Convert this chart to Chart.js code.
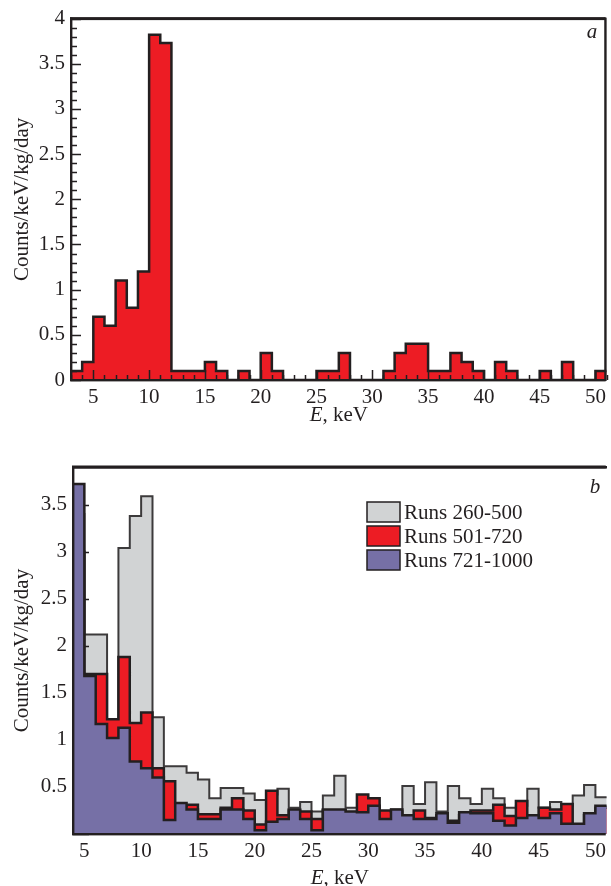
<!DOCTYPE html>
<html>
<head>
<meta charset="utf-8">
<script src="https://cdn.jsdelivr.net/npm/chart.js@4.4.1/dist/chart.umd.min.js"></script>
<style>
html, body { margin: 0; padding: 0; background: #fff; }
#wrapA { position: absolute; left: 0; top: 0; width: 611px; height: 430px; }
#wrapB { position: absolute; left: 0; top: 430px; width: 611px; height: 456px; }
</style>
</head>
<body>
<div id="wrapA"><canvas id="chartA"></canvas></div>
<div id="wrapB"><canvas id="chartB"></canvas></div>
<script>
// panel a: 1 keV bins from 3 to 51 keV
let binStartA = 3;
let countsA = [0.1, 0.2, 0.7, 0.6, 1.1, 0.8, 1.2, 3.82, 3.73, 0.1,
    0.1, 0.1, 0.2, 0.1, 0, 0.1, 0, 0.3, 0.1, 0,
    0, 0, 0.1, 0.1, 0.3, 0, 0, 0, 0.1, 0.3,
    0.4, 0.4, 0.1, 0.1, 0.3, 0.2, 0.1, 0, 0.2, 0.1,
    0, 0, 0.1, 0, 0.2, 0, 0, 0.1];

// panel b: 1 keV bins from 4 to 51 keV
let binStartB = 4;
let runs260 = [3.4, 2.12, 2.12, 1.2, 3.04, 3.38, 3.59, 1.24, 0.72, 0.72,
    0.65, 0.58, 0.38, 0.49, 0.49, 0.43, 0.36, 0.42, 0.48, 0.28,
    0.34, 0.24, 0.41, 0.62, 0.28, 0.28, 0.3, 0.24, 0.26, 0.51,
    0.32, 0.55, 0.24, 0.51, 0.38, 0.32, 0.48, 0.38, 0.28, 0.3,
    0.48, 0.28, 0.34, 0.3, 0.41, 0.52, 0.39];
let runs501 = [3.0, 1.7, 1.7, 1.22, 1.88, 1.18, 1.29, 0.7, 0.56, 0.3,
    0.31, 0.21, 0.21, 0.28, 0.38, 0.25, 0.1, 0.46, 0.2, 0.25,
    0.24, 0.16, 0.25, 0.25, 0.22, 0.42, 0.38, 0.25, 0.24, 0.18,
    0.25, 0.17, 0.2, 0.14, 0.2, 0.25, 0.25, 0.31, 0.19, 0.35,
    0.18, 0.28, 0.26, 0.32, 0.1, 0.2, 0.28];
let runs721 = [3.72, 1.68, 1.17, 1.02, 1.13, 0.77, 0.70, 0.60, 0.15, 0.33,
    0.26, 0.16, 0.16, 0.26, 0.26, 0.16, 0.04, 0.13, 0.16, 0.26,
    0.16, 0.04, 0.26, 0.26, 0.24, 0.23, 0.30, 0.16, 0.26, 0.20,
    0.16, 0.16, 0.22, 0.12, 0.23, 0.22, 0.22, 0.14, 0.09, 0.17,
    0.20, 0.17, 0.22, 0.11, 0.11, 0.22, 0.30];
let seriesLabels = ['Runs 260-500', 'Runs 501-720', 'Runs 721-1000'];

// tick labels
let xTickLabels = [5, 10, 15, 20, 25, 30, 35, 40, 45, 50];
let yTickLabelsA = [0, 0.5, 1, 1.5, 2, 2.5, 3, 3.5, 4];
let yTickLabelsB = [0.5, 1, 1.5, 2, 2.5, 3, 3.5];

const dark = '#231f20';
const red = '#ed1c24';
const grey = '#d1d3d4';
const purple = '#7670a6';
const serif = 'Liberation Serif, Times New Roman, serif';
const tickFont = { family: serif, size: 21 };

// histogram as a stepped line through the bin edges
function stepPoints(start, values) {
    let pts = values.map((v, i) => ({ x: start + i, y: v }));
    pts.push({ x: start + values.length, y: values[values.length - 1] });
    return pts;
}

function onlyListed(list) {
    return function (value) {
        return list.some(v => Math.abs(v - value) < 1e-6) ? String(value) : '';
    };
}

// ticks drawn inside the frame
function drawTicks(chart, t) {
    const ctx = chart.ctx, a = chart.chartArea, x = chart.scales.x, y = chart.scales.y;
    ctx.save();
    ctx.strokeStyle = dark;
    ctx.lineWidth = 1.5;
    ctx.beginPath();
    if (t.yStep) {
        let n = Math.floor((y.max - y.min) / t.yStep + 1e-6);
        for (let i = 0; i <= n; i++) {
            let v = y.min + i * t.yStep;
            let major = Math.abs(v / 0.5 - Math.round(v / 0.5)) < 1e-6;
            let len = major ? t.yMajor : t.yMinor;
            let py = Math.round(y.getPixelForValue(v)) + 0.5;
            ctx.moveTo(a.left, py);
            ctx.lineTo(a.left + len, py);
        }
    }
    if (t.xStep) {
        let n = Math.floor((x.max - x.min) / t.xStep + 1e-6);
        for (let i = 0; i <= n; i++) {
            let v = x.min + i * t.xStep;
            let len = v % 5 === 0 ? t.xMajor : t.xMinor;
            let px = Math.round(x.getPixelForValue(v)) + 0.5;
            ctx.moveTo(px, a.bottom);
            ctx.lineTo(px, a.bottom - len);
        }
    }
    ctx.stroke();
    ctx.restore();
}

function drawFrame(chart, withRight) {
    const ctx = chart.ctx, a = chart.chartArea;
    ctx.save();
    ctx.fillStyle = dark;
    ctx.fillRect(a.left - 1, a.top - 1.5, a.right - a.left, 3);
    ctx.fillRect(a.left - 1, a.top - 1, 2.4, a.bottom - a.top + 2);
    ctx.fillRect(a.left - 1, a.bottom - 1, a.right - a.left, 2.4);
    if (withRight) {
        ctx.fillRect(a.right - 2.4, a.top - 1, 2.4, a.bottom - a.top + 2);
    }
    ctx.restore();
}

function drawXTitle(chart, dy) {
    const ctx = chart.ctx, a = chart.chartArea;
    ctx.save();
    ctx.fillStyle = dark;
    ctx.textBaseline = 'middle';
    ctx.font = 'italic 21px ' + serif;
    let wE = ctx.measureText('E').width;
    ctx.font = '21px ' + serif;
    let wRest = ctx.measureText(', keV').width;
    let x0 = (a.left + a.right) / 2 - (wE + wRest) / 2;
    let y0 = a.bottom + dy;
    ctx.font = 'italic 21px ' + serif;
    ctx.fillText('E', x0, y0);
    ctx.font = '21px ' + serif;
    ctx.fillText(', keV', x0 + wE, y0);
    ctx.restore();
}

function drawPanelLetter(chart, letter, px, py) {
    const ctx = chart.ctx;
    ctx.save();
    ctx.fillStyle = dark;
    ctx.font = 'italic 21px ' + serif;
    ctx.textAlign = 'center';
    ctx.textBaseline = 'middle';
    ctx.fillText(letter, px, py);
    ctx.restore();
}

function yScale(min, max, labels, width) {
    return {
        min: min, max: max,
        grid: { display: false, drawTicks: false },
        border: { display: false },
        ticks: { stepSize: 0.5, includeBounds: false, padding: 6, color: dark, font: tickFont, callback: onlyListed(labels) },
        title: { display: true, text: 'Counts/keV/kg/day', color: dark, font: { family: serif, size: 21 }, padding: { top: 10, bottom: 0 } },
        afterFit: s => { s.width = width; }
    };
}

function xScale(min, max, height) {
    return {
        type: 'linear', min: min, max: max,
        grid: { display: false, drawTicks: false },
        border: { display: false },
        ticks: { stepSize: 5, includeBounds: false, padding: 5, maxRotation: 0, autoSkip: false, color: dark, font: tickFont, callback: onlyListed(xTickLabels) },
        afterFit: s => { s.height = height; }
    };
}

// empty top axis that only draws the upper frame line
function topScale(min, max) {
    return {
        type: 'linear', position: 'top', min: min, max: max, z: 2,
        grid: { display: false, drawTicks: false },
        border: { display: true, color: dark, width: 2.5 },
        ticks: { display: false },
        afterFit: s => { s.height = 0; }
    };
}

const panelA = {
    id: 'panelA',
    afterDatasetsDraw(chart) {
        drawTicks(chart, { yStep: 0.1, yMajor: 10, yMinor: 6, xStep: 1, xMajor: 10, xMinor: 5 });
    },
    afterDraw(chart) {
        drawFrame(chart, true);
        drawXTitle(chart, 35);
        drawPanelLetter(chart, 'a', 592, 32);
    }
};

let chartA = new Chart(document.getElementById('chartA'), {
    type: 'line',
    data: {
        datasets: [{
            label: 'Counts',
            data: stepPoints(binStartA, countsA),
            stepped: 'before',
            fill: 'origin',
            backgroundColor: red,
            borderColor: dark,
            borderWidth: 2.5,
            pointRadius: 0
        }]
    },
    options: {
        responsive: true,
        maintainAspectRatio: false,
        animation: false,
        layout: { padding: { top: 16, right: 1, left: 0, bottom: 0 } },
        plugins: { legend: { display: false }, tooltip: { enabled: false } },
        scales: {
            x: xScale(3, 51, 50),
            y: yScale(0, 4, yTickLabelsA, 71)
        }
    },
    plugins: [panelA]
});

// panel b: grey drawn first, purple on top
const colorsB = [grey, red, purple];
const panelB = {
    id: 'panelB',
    afterDatasetDraw(chart, args) {
        if (args.index === 0) {
            drawTicks(chart, { yStep: 0.5, yMajor: 16, yMinor: 16 });
        }
    },
    afterDraw(chart) {
        drawFrame(chart, false);
        drawXTitle(chart, 44);
        drawPanelLetter(chart, 'b', 595, 57);
        // legend
        const ctx = chart.ctx;
        ctx.save();
        ctx.font = '21px ' + serif;
        ctx.textBaseline = 'middle';
        let rows = [82, 106, 130];
        chart.data.datasets.forEach((ds, i) => {
            ctx.fillStyle = colorsB[i];
            ctx.fillRect(367, rows[i] - 10, 33, 20);
            ctx.strokeStyle = dark;
            ctx.lineWidth = 1.5;
            ctx.strokeRect(367, rows[i] - 10, 33, 20);
            ctx.fillStyle = dark;
            ctx.fillText(ds.label, 404, rows[i] + 1);
        });
        ctx.restore();
    }
};

function histSet(label, values, color, border, order, width) {
    return {
        label: label,
        data: stepPoints(binStartB, values),
        stepped: 'before',
        fill: 'origin',
        backgroundColor: color,
        borderColor: border,
        borderWidth: width,
        pointRadius: 0,
        order: order
    };
}

let chartB = new Chart(document.getElementById('chartB'), {
    type: 'line',
    data: {
        datasets: [
            histSet(seriesLabels[0], runs260, grey, '#3c3a3b', 3, 2),
            histSet(seriesLabels[1], runs501, red, dark, 2, 2.5),
            histSet(seriesLabels[2], runs721, purple, dark, 1, 2.5)
        ]
    },
    options: {
        responsive: true,
        maintainAspectRatio: false,
        animation: false,
        layout: { padding: { top: 37, right: 0, left: 0, bottom: 0 } },
        plugins: { legend: { display: false }, tooltip: { enabled: false } },
        scales: {
            x: xScale(4, 51, 52),
            x2: topScale(4, 51),
            y: yScale(0, 3.9, yTickLabelsB, 73)
        }
    },
    plugins: [panelB]
});
</script>
</body>
</html>
